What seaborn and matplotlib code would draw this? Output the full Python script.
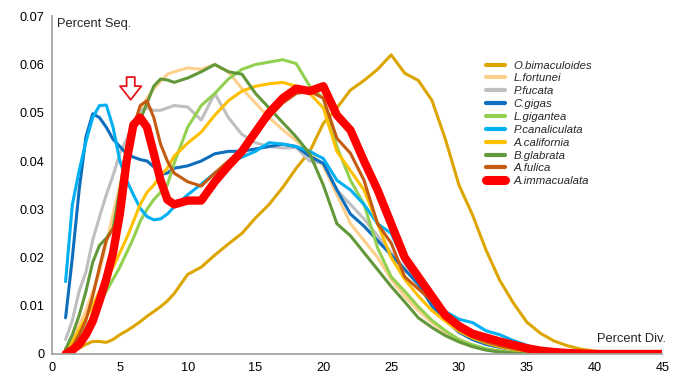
import numpy as np
import pandas as pd
import matplotlib
matplotlib.use("Agg")
import matplotlib.pyplot as plt
from matplotlib.lines import Line2D
import seaborn as sns

# Divergence grid (percent): half steps up to 9, then whole steps
divergence = [1, 1.5, 2, 2.5, 3, 3.5, 4, 4.5, 5, 5.5, 6, 6.5, 7, 7.5, 8, 8.5, 9] + list(range(10, 46))

species = ["O.bimaculoides", "L.fortunei", "P.fucata", "C.gigas", "L.gigantea",
           "P.canaliculata", "A.california", "B.glabrata", "A.fulica", "A.immacualata"]

o_bimaculoides = [0.0003, 0.0006, 0.0012, 0.002, 0.0026, 0.0026, 0.0024, 0.003, 0.004, 0.0048,
                  0.0057, 0.0067, 0.0078, 0.0088, 0.0098, 0.011, 0.0125,
                  0.0165, 0.018, 0.0205, 0.0228, 0.025, 0.0282, 0.031, 0.0345, 0.0385, 0.042,
                  0.0478, 0.051, 0.0547, 0.0567, 0.059, 0.062, 0.0582, 0.0567, 0.0526, 0.0445,
                  0.035, 0.0288, 0.0215, 0.0153, 0.0106, 0.0066, 0.0043, 0.0027, 0.0017, 0.001,
                  0.0006, 0.0003, 0.0002, 0.0001, 0.0, 0.0]
l_fortunei = [0.001, 0.003, 0.006, 0.009, 0.013, 0.017, 0.023, 0.029, 0.035, 0.041,
              0.046, 0.050, 0.053, 0.055, 0.0565, 0.058, 0.0585,
              0.0593, 0.059, 0.060, 0.0585, 0.055, 0.052, 0.049, 0.0465, 0.0442, 0.0418, 0.039,
              0.033, 0.027, 0.0235, 0.020, 0.0155, 0.012, 0.009, 0.0065, 0.0045, 0.003, 0.0018,
              0.001, 0.0006, 0.0003, 0.0001, 0, 0, 0, 0, 0, 0, 0, 0, 0, 0]
p_fucata = [0.003, 0.007, 0.013, 0.017, 0.0236, 0.0284, 0.033, 0.037, 0.0416, 0.0445,
            0.048, 0.0505, 0.051, 0.0505, 0.0505, 0.051, 0.0515,
            0.0512, 0.0485, 0.054, 0.049, 0.0455, 0.0438, 0.043, 0.0427, 0.0428, 0.040, 0.0395,
            0.034, 0.031, 0.028, 0.0245, 0.021, 0.0178, 0.0142, 0.011, 0.0078, 0.0047, 0.003,
            0.002, 0.0013, 0.0008, 0.0004, 0.0002, 0, 0, 0, 0, 0, 0, 0, 0, 0]
c_gigas = [0.0075, 0.020, 0.034, 0.045, 0.0498, 0.049, 0.047, 0.0445, 0.043, 0.0415,
           0.0408, 0.0403, 0.040, 0.0388, 0.0372, 0.0375, 0.0385,
           0.039, 0.040, 0.0415, 0.042, 0.042, 0.0425, 0.043, 0.0435, 0.043, 0.041, 0.0395,
           0.034, 0.029, 0.0265, 0.0235, 0.0205, 0.0175, 0.0145, 0.010, 0.007, 0.0045, 0.003,
           0.002, 0.0014, 0.0009, 0.0005, 0.0003, 0.0001, 0, 0, 0, 0, 0, 0, 0, 0]
l_gigantea = [0.001, 0.002, 0.0035, 0.0055, 0.008, 0.0105, 0.013, 0.0155, 0.018, 0.021,
              0.024, 0.0275, 0.030, 0.032, 0.0335, 0.035, 0.0395,
              0.047, 0.0515, 0.054, 0.057, 0.059, 0.060, 0.0605, 0.061, 0.0602, 0.0555, 0.053,
              0.043, 0.036, 0.031, 0.022, 0.016, 0.013, 0.0098, 0.007, 0.0048, 0.003, 0.0019,
              0.0011, 0.0006, 0.0003, 0.0001, 0, 0, 0, 0, 0, 0, 0, 0, 0, 0]
p_canaliculata = [0.015, 0.031, 0.038, 0.044, 0.049, 0.0515, 0.0516, 0.047, 0.040, 0.036,
                  0.033, 0.0302, 0.0285, 0.0278, 0.028, 0.029, 0.0305,
                  0.033, 0.0352, 0.0375, 0.0395, 0.0408, 0.042, 0.0438, 0.0435, 0.043, 0.042, 0.0405,
                  0.036, 0.034, 0.031, 0.027, 0.025, 0.019, 0.0152, 0.012, 0.0088, 0.0072, 0.0065,
                  0.0048, 0.004, 0.0028, 0.0018, 0.0009, 0.0005, 0.0002, 0, 0, 0, 0, 0, 0, 0]
a_california = [0.001, 0.0025, 0.005, 0.0075, 0.010, 0.013, 0.0155, 0.018, 0.021, 0.024,
                0.0275, 0.031, 0.0335, 0.035, 0.037, 0.0385, 0.041,
                0.0437, 0.046, 0.0495, 0.0525, 0.0545, 0.0555, 0.056, 0.0563, 0.0555, 0.054, 0.051,
                0.042, 0.038, 0.034, 0.027, 0.020, 0.0155, 0.012, 0.009, 0.0068, 0.0047, 0.0033,
                0.0023, 0.0015, 0.0009, 0.0005, 0.0002, 0, 0, 0, 0, 0, 0, 0, 0, 0]
b_glabrata = [0.001, 0.004, 0.008, 0.013, 0.019, 0.0225, 0.024, 0.026, 0.034, 0.043,
              0.0475, 0.0485, 0.052, 0.0555, 0.057, 0.0568, 0.0563,
              0.0572, 0.0585, 0.060, 0.0585, 0.058, 0.054, 0.051, 0.048, 0.045, 0.0415, 0.035,
              0.027, 0.0245, 0.021, 0.0175, 0.014, 0.0108, 0.0075, 0.0055, 0.0038, 0.0025, 0.0015,
              0.0008, 0.0004, 0.0002, 0, 0, 0, 0, 0, 0, 0, 0, 0, 0, 0]
a_fulica = [0.0005, 0.0015, 0.004, 0.007, 0.012, 0.018, 0.0236, 0.026, 0.028, 0.038,
            0.047, 0.0515, 0.0525, 0.049, 0.0435, 0.040, 0.0375,
            0.0357, 0.0348, 0.0375, 0.040, 0.0425, 0.0458, 0.049, 0.052, 0.054, 0.0545, 0.053,
            0.0447, 0.0416, 0.036, 0.027, 0.023, 0.016, 0.0135, 0.011, 0.0077, 0.005, 0.0035,
            0.0025, 0.0017, 0.0011, 0.0006, 0.0003, 0.0001, 0, 0, 0, 0, 0, 0, 0, 0]
a_immacualata = [0.0, 0.0008, 0.002, 0.004, 0.0068, 0.011, 0.0155, 0.021, 0.029, 0.040,
                 0.0475, 0.049, 0.047, 0.0416, 0.036, 0.032, 0.031,
                 0.0318, 0.0318, 0.0357, 0.039, 0.042, 0.046, 0.050, 0.053, 0.055, 0.0545, 0.0555,
                 0.0495, 0.0464, 0.040, 0.034, 0.027, 0.020, 0.016, 0.012, 0.008, 0.0058, 0.0042,
                 0.0034, 0.0026, 0.0019, 0.0012, 0.0007, 0.0004, 0.0002, 0.0001, 0, 0, 0, 0, 0, 0]

series = [o_bimaculoides, l_fortunei, p_fucata, c_gigas, l_gigantea,
          p_canaliculata, a_california, b_glabrata, a_fulica, a_immacualata]

colors = ["#DCA500", "#FFD08C", "#BFBFBF", "#0E6EBE", "#92D050",
          "#00B0F0", "#FFC000", "#62983A", "#C55A11", "#FF0000"]
widths = [2.2] * 9 + [6.0]

x_ticks = [0, 5, 10, 15, 20, 25, 30, 35, 40, 45]
y_ticks = [0, 0.01, 0.02, 0.03, 0.04, 0.05, 0.06, 0.07]
y_tick_labels = ["0", "0.01", "0.02", "0.03", "0.04", "0.05", "0.06", "0.07"]

df = pd.concat(
    [pd.DataFrame({"div": divergence, "seq": vals, "species": name})
     for name, vals in zip(species, series)],
    ignore_index=True,
)

sns.set_style("white")
plt.rcParams["font.family"] = ["Liberation Sans", "DejaVu Sans"]

fig = plt.figure(figsize=(6.89, 3.74), dpi=100)
ax = fig.add_axes([0.0755, 0.0535, 0.886, 0.903])

sns.lineplot(data=df, x="div", y="seq", hue="species", hue_order=species,
             palette=dict(zip(species, colors)), size="species", size_order=species,
             sizes=dict(zip(species, widths)), estimator=None, sort=False,
             legend=False, ax=ax)
for line in ax.lines:
    line.set_solid_capstyle("round")
    line.set_solid_joinstyle("round")

ax.set_xlim(0, 45)
ax.set_ylim(0, 0.07)
ax.set_xticks(x_ticks)
ax.set_yticks(y_ticks)
ax.set_yticklabels(y_tick_labels)
ax.set_xlabel("")
ax.set_ylabel("")

spine_gray = "#A6A6A6"
for side in ["top", "right"]:
    ax.spines[side].set_visible(False)
for side in ["left", "bottom"]:
    ax.spines[side].set_color(spine_gray)
    ax.spines[side].set_linewidth(1.3)
ax.tick_params(axis="both", which="major", direction="out", length=3.5, width=1.1,
               color=spine_gray, labelsize=9.2, labelcolor="black", pad=2)

ax.text(0.008, 0.976, "Percent Seq.", transform=ax.transAxes, fontsize=9.3,
        va="center", ha="left")
ax.text(0.892, 0.044, "Percent Div.", transform=ax.transAxes, fontsize=9.3,
        va="center", ha="left")

# Hollow marker arrow above the A.immacualata peak
ax.annotate("", xy=(5.8, 0.0527), xytext=(5.8, 0.0574),
            arrowprops=dict(arrowstyle="simple,head_length=0.7,head_width=1.1,tail_width=0.42",
                            fc="white", ec="#E8141B", lw=1.3, mutation_scale=14,
                            shrinkA=0, shrinkB=0))

handles = [Line2D([0], [0], color=c, lw=(3.0 if w < 5 else 6.5), solid_capstyle="round")
           for c, w in zip(colors, widths)]
leg = fig.legend(handles, species, loc="upper left", bbox_to_anchor=(0.706, 0.838),
                 frameon=False, fontsize=8.2, handlelength=1.6, handletextpad=0.8,
                 labelspacing=0.25, borderpad=0, borderaxespad=0)
for t in leg.get_texts():
    t.set_fontstyle("italic")

fig.savefig("out.png", dpi=100)
